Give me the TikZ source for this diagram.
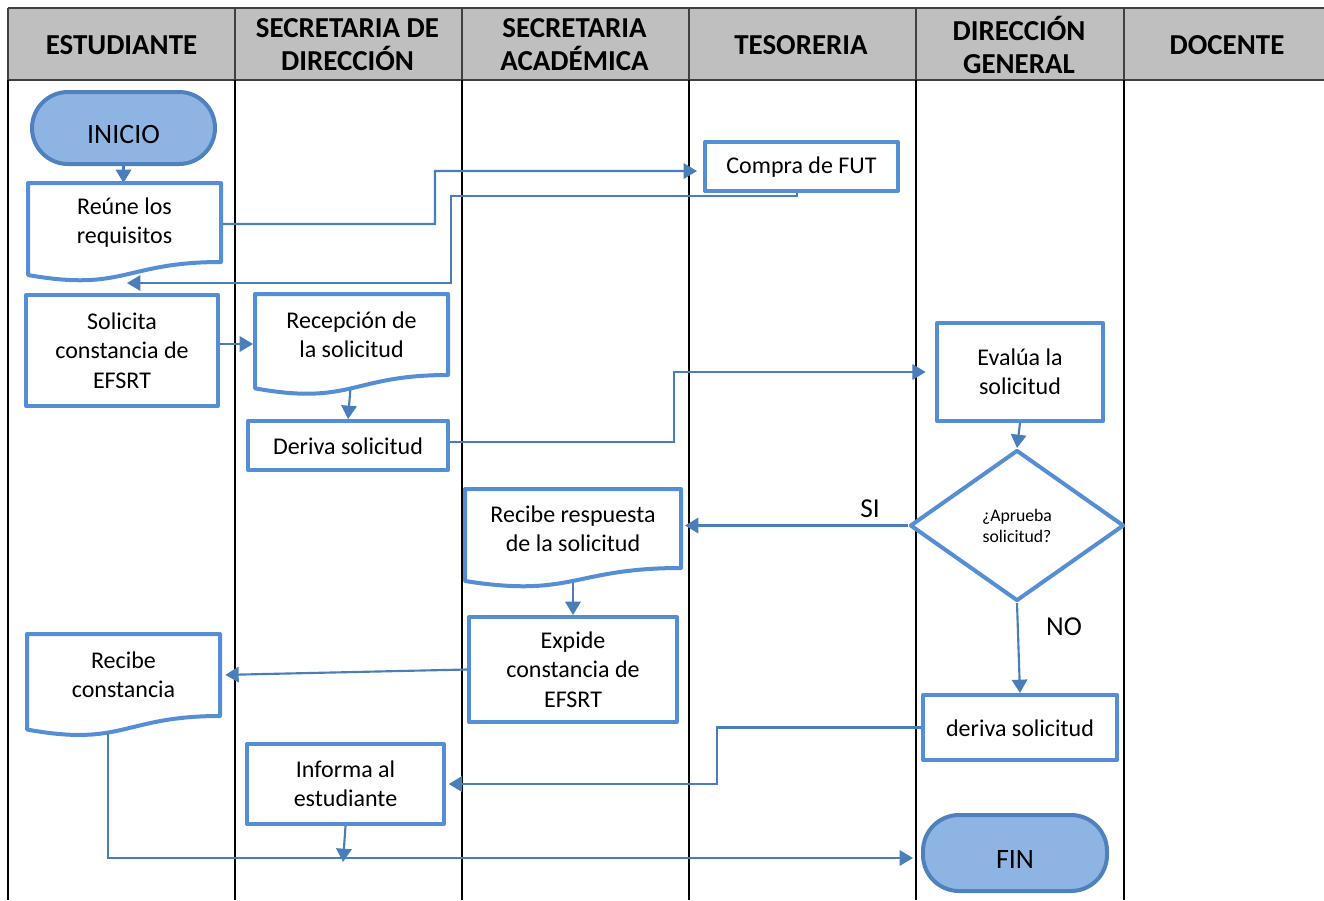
\documentclass[tikz,border=0pt]{standalone}
\usepackage{fontspec}
\setmainfont{Carlito}
\usetikzlibrary{arrows.meta,shapes.geometric,calc}
\pgfdeclarelayer{lanes}
\pgfdeclarelayer{conns}
\pgfdeclarelayer{docs}
\pgfsetlayers{lanes,conns,docs,main}
\definecolor{boxblue}{HTML}{558ED5}
\definecolor{termfill}{HTML}{8EB4E3}
\definecolor{termline}{HTML}{4F81BD}
\definecolor{connblue}{HTML}{4A7EBB}
\definecolor{headgray}{HTML}{BFBFBF}
\definecolor{headline}{HTML}{404040}
\tikzset{
  box/.style={draw=boxblue, line width=3pt, fill=white, align=center, line join=round,
    font=\fontsize{18}{22}\selectfont, inner sep=2pt},
  docnode/.style={align=center, font=\fontsize{18}{22}\selectfont, inner sep=2pt, line width=3pt},
  docline/.style={draw=boxblue, line width=3pt, fill=white, line join=round},
  term/.style={draw=termline, fill=termfill, line width=3pt, rounded corners=27pt,
    font=\fontsize{21}{25}\selectfont, text depth=0pt},
  decision/.style={diamond, draw=boxblue, line width=3pt, fill=white, align=center,
    font=\fontsize{13.3}{15.75}\selectfont, inner sep=0pt, line join=round},
  conn/.style={draw=connblue, line width=1.6pt, -{Triangle[length=10pt,width=11.5pt]}},
  head/.style={font=\bfseries\fontsize{21.7}{24.75}\selectfont, align=center},
  lane/.style={black, line width=1.5pt},
  hline/.style={headline, line width=1.5pt},
  lbl/.style={font=\fontsize{20.5}{24}\selectfont, inner sep=0pt}
}
\newcommand{\docborder}[1]{%
  \begin{pgfonlayer}{docs}
  \path[docline] (#1.north west) -- (#1.north east) -- (#1.south east)
    .. controls (#1.south) and ($(#1.south)!-0.381!(#1.north)$) ..
    ($(#1.south west)!-0.1646!(#1.north west)$) -- cycle;
  \end{pgfonlayer}}
\begin{document}
\begin{tikzpicture}[x=0.75pt,y=-0.75pt]
\useasboundingbox (0,0) rectangle (1324,900);
% lanes
\begin{pgfonlayer}{lanes}
  \fill[headgray] (8,8) rectangle (1324,80);
  \draw[hline] (8,8) -- (1324,8);
  \draw[hline] (8,80) -- (1324,80);
  \foreach \x in {8,235,462,689,916,1124} {
    \draw[hline] (\x,8) -- (\x,80);
    \draw[lane] (\x,80) -- (\x,900);
  }
\end{pgfonlayer}
% headers
\node[head] (h1) at (121.5,45) {ESTUDIANTE};
\node[head] (h2) at (347.5,44.5) {SECRETARIA DE\\DIRECCIÓN};
\node[head] (h3) at (574.5,44.5) {SECRETARIA\\ACADÉMICA};
\node[head] (h4) at (801,45) {TESORERIA};
\node[head] (h5) at (1019,44.5) {DIRECCIÓN\\GENERAL};
\node[head] (h6) at (1227,45) {DOCENTE};
% nodes
\node[term, minimum width=137.25pt, minimum height=54pt, text height=23pt] (inicio) at (123.5,128) {INICIO};
\node[docnode, minimum width=141.75pt, minimum height=56.25pt] (reune) at (124.5,222.5) {Reúne los\\requisitos};
\docborder{reune}
\node[box, minimum width=144.75pt, minimum height=36.75pt, text height=13pt] (fut) at (801.5,166.5) {Compra de FUT};
\node[box, minimum width=144pt, minimum height=83.25pt] (solicita) at (122,350.5) {Solicita\\constancia de\\EFSRT};
\node[docnode, minimum width=141.75pt, minimum height=57.75pt] (recep) at (351.5,334.5) {Recepción de\\la solicitud};
\docborder{recep}
\node[box, minimum width=150pt, minimum height=36.75pt, text height=13pt] (deriva) at (348,445.5) {Deriva solicitud};
\node[box, minimum width=124.5pt, minimum height=73.5pt] (evalua) at (1020,372) {Evalúa la\\solicitud};
\node[decision, minimum width=160.5pt, minimum height=113.25pt] (aprueba) at (1017,525.5) {¿Aprueba\\solicitud?};
\node[docnode, minimum width=159pt, minimum height=56.25pt] (resp) at (573,528.5) {Recibe respuesta\\de la solicitud};
\docborder{resp}
\node[box, minimum width=156pt, minimum height=78.75pt] (expide) at (573,669.5) {Expide\\constancia de\\EFSRT};
\node[docnode, minimum width=141.75pt, minimum height=58.5pt] (rconst) at (123.5,675) {Recibe\\constancia};
\docborder{rconst}
\node[box, minimum width=145.5pt, minimum height=48.75pt, text height=13pt] (deriva2) at (1020,727.5) {deriva solicitud};
\node[box, minimum width=147.75pt, minimum height=60pt] (informa) at (345.5,784) {Informa al\\estudiante};
\node[term, minimum width=138pt, minimum height=57pt, text height=22.5pt] (fin) at (1015,853) {FIN};
% labels
\node[lbl] (si) at (870,509) {SI};
\node[lbl] (no) at (1064,627) {NO};
% free ends
\coordinate (ret) at (127,283);
\coordinate (end13) at (343,862);
% connectors
\begin{pgfonlayer}{conns}
  \draw[conn, shorten >=0pt] (inicio.south) -- (inicio.south |- reune.north);
  \draw[conn, shorten >=4.5pt] (reune.east |- 0,224) -| (435,171) -- ([yshift=-3.4pt]fut.west);
  \draw[conn] ([xshift=-3.4pt]fut.south) -- ++(0,3) -| (451,283) -- (ret);
  \draw[conn, shorten >=1.5pt] (solicita.east |- 0,344) -- (recep.west |- 0,344);
  \draw[conn] (recep.south) -- (deriva.north);
  \draw[conn, shorten >=7pt] (deriva.east |- 0,442) -| (674,372) -- (evalua.west);
  \draw[conn] (evalua.south) -- (aprueba.north);
  \draw[conn, shorten >=3pt] (aprueba.west) -- (aprueba.west -| resp.east);
  \draw[conn] (aprueba.south) -- (deriva2.north);
  \draw[conn] (resp.south) -- (expide.north);
  \draw[conn, shorten >=4pt] (expide.west) -- (rconst.east);
  \draw[conn, shorten >=2pt] (deriva2.west) -| (717,784) -- (informa.east);
  \draw[conn] (informa.south) -- (end13);
  \draw[conn, shorten >=6pt] (108,0 |- rconst.south) |- ([yshift=-3.75pt]fin.west);
\end{pgfonlayer}
\end{tikzpicture}
\end{document}
